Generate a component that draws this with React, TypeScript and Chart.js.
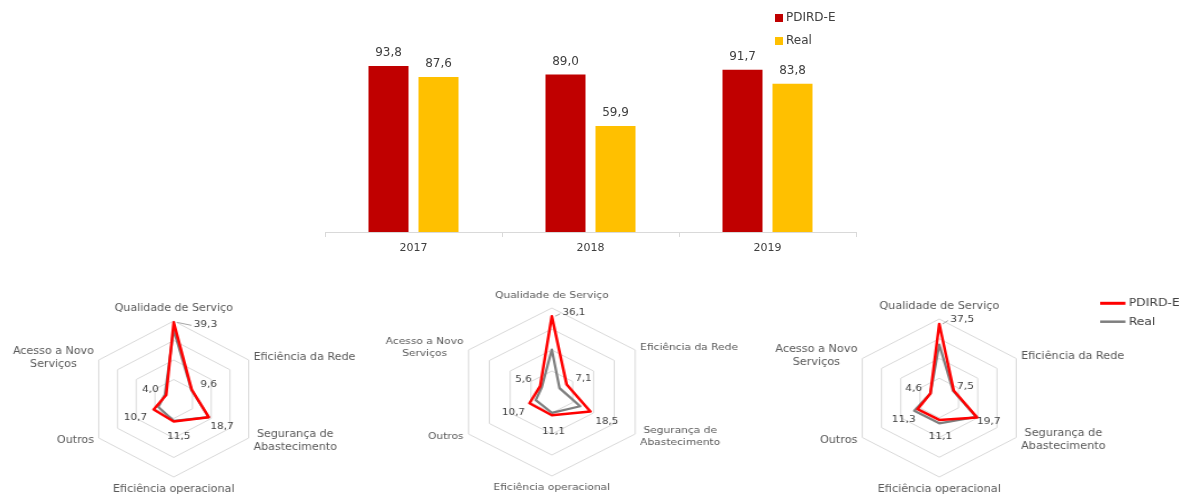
import React, { useEffect, useRef } from 'react';
import { Chart, registerables } from 'chart.js';

Chart.register(...registerables);

// ---------- DATA ----------
const YEARS = ['2017', '2018', '2019'];
const PDIRD_TOTAL = [93.8, 89.0, 91.7];
const REAL_TOTAL = [87.6, 59.9, 83.8];

const AXIS_LABELS: (string | string[])[] = [
  'Qualidade de Serviço',
  'Eficiência da Rede',
  ['Segurança de', 'Abastecimento'],
  'Eficiência operacional',
  'Outros',
  ['Acesso a Novo', 'Serviços'],
];

const PDIRD_2017 = [39.3, 9.6, 18.7, 11.5, 10.7, 4.0];
const REAL_2017 = [35.4, 9.4, 18.7, 11.2, 8.2, 4.7];
const PDIRD_2018 = [36.1, 7.1, 18.5, 11.1, 10.7, 5.6];
const REAL_2018 = [20.2, 3.7, 13.6, 9.9, 7.7, 4.8];
const PDIRD_2019 = [37.5, 7.5, 19.7, 11.1, 11.3, 4.6];
const REAL_2019 = [27.0, 7.2, 19.2, 12.8, 13.0, 4.6];

const SERIES_NAMES = ['PDIRD-E', 'Real'];

// ---------- STYLE ----------
const FONT = '"DejaVu Sans", sans-serif';
const TEXT = '#404040';
const LABEL_TEXT = '#595959';
const BAR_COLORS = ['#C00000', '#FFC000'];
const LINE_COLORS = ['#FF0000', '#7F7F7F'];

Chart.defaults.font.family = FONT;

const fmt = (v: number) => v.toFixed(1).replace('.', ',');

// ---------- BAR CHART ----------
const barTextPlugin = {
  id: 'barText',
  afterDatasetsDraw(chart: any) {
    const ctx = chart.ctx;
    ctx.save();
    ctx.font = `12px ${FONT}`;
    ctx.fillStyle = TEXT;
    ctx.textAlign = 'center';
    ctx.textBaseline = 'middle';
    chart.data.datasets.forEach((ds: any, di: number) => {
      chart.getDatasetMeta(di).data.forEach((bar: any, i: number) => {
        ctx.fillText(fmt(ds.data[i]), bar.x, bar.y - 13);
      });
    });
    // legend (top-right)
    chart.data.datasets.forEach((ds: any, di: number) => {
      const y = 18 + di * 23;
      ctx.fillStyle = ds.backgroundColor;
      ctx.fillRect(475, y - 4, 8, 8);
      ctx.fillStyle = TEXT;
      ctx.textAlign = 'left';
      ctx.fillText(ds.label, 486, y);
    });
    ctx.restore();
  },
};

function BarChart() {
  const ref = useRef<HTMLCanvasElement>(null);
  useEffect(() => {
    if (!ref.current) return;
    const chart = new Chart(ref.current, {
      type: 'bar',
      data: {
        labels: YEARS,
        datasets: [
          {
            label: SERIES_NAMES[0],
            data: PDIRD_TOTAL,
            backgroundColor: BAR_COLORS[0],
            categoryPercentage: 100 / 177,
            barPercentage: 0.8,
          },
          {
            label: SERIES_NAMES[1],
            data: REAL_TOTAL,
            backgroundColor: BAR_COLORS[1],
            categoryPercentage: 100 / 177,
            barPercentage: 0.8,
          },
        ],
      },
      options: {
        animation: false,
        responsive: false,
        layout: { padding: { left: 25, right: 24, top: 55, bottom: 0 } },
        plugins: { legend: { display: false }, tooltip: { enabled: false } },
        scales: {
          x: {
            offset: true,
            grid: {
              display: true,
              offset: true,
              drawOnChartArea: false,
              drawTicks: true,
              tickLength: 5,
              color: '#d9d9d9',
            },
            border: { display: true, color: '#d9d9d9' },
            ticks: { font: { family: FONT, size: 11 }, color: TEXT, padding: 5 },
            afterFit: (s: any) => {
              s.height = 28;
            },
          },
          y: { display: false, min: 0, max: 100 },
        },
      },
      plugins: [barTextPlugin],
    } as any);
    return () => chart.destroy();
  }, []);
  return (
    <canvas
      ref={ref}
      width={580}
      height={260}
      style={{ position: 'absolute', left: 300, top: 0, width: '580px', height: '260px' }}
    />
  );
}

// ---------- RADAR CHARTS ----------
type RadarCfg = {
  left: number;
  stretch: number;
  width: number;
  padding: { left: number; right: number; top: number; bottom: number };
  labelSize: number;
  valueSize: number;
  offsets: number[][];
  legend?: boolean;
};

function makeRadarPlugin(cfg: RadarCfg) {
  return {
    id: 'radarText',
    afterDatasetsDraw(chart: any) {
      const scale = chart.scales.r;
      const ctx = chart.ctx;
      ctx.save();
      // axis (point) labels
      ctx.font = `${cfg.labelSize}px ${FONT}`;
      ctx.fillStyle = LABEL_TEXT;
      ctx.textBaseline = 'middle';
      ctx.textAlign = 'center';
      const lh = cfg.labelSize * 1.3;
      chart.data.labels.forEach((lbl: any, i: number) => {
        const lines: string[] = Array.isArray(lbl) ? lbl : [lbl];
        const ang = scale.getIndexAngle(i);
        const sx = Math.sin(ang);
        const cy = Math.cos(ang);
        const vertical = Math.abs(sx) < 0.01;
        const p = scale.getPointPosition(i, scale.drawingArea + (vertical ? 6 : 5));
        const maxW = Math.max(...lines.map((l) => ctx.measureText(l).width));
        const blockH = lines.length * lh;
        let cx: number;
        let top: number;
        if (vertical) {
          cx = p.x;
          top = cy > 0 ? p.y - blockH : p.y;
        } else if (sx > 0) {
          cx = p.x + maxW / 2;
          top = p.y - blockH / 2;
        } else {
          cx = p.x - maxW / 2;
          top = p.y - blockH / 2;
        }
        lines.forEach((l, k) => ctx.fillText(l, cx, top + lh * (k + 0.5)));
      });

      // value labels for the first series
      ctx.font = `${cfg.valueSize}px ${FONT}`;
      ctx.fillStyle = TEXT;
      const ds = chart.data.datasets[0];
      chart.getDatasetMeta(0).data.forEach((pt: any, i: number) => {
        const [dx, dy] = cfg.offsets[i];
        const x = pt.x + dx;
        const y = pt.y + dy;
        const txt = fmt(ds.data[i]);
        ctx.fillText(txt, x, y);
        if (i === 0) {
          const w = ctx.measureText(txt).width;
          ctx.strokeStyle = '#a6a6a6';
          ctx.lineWidth = 1;
          ctx.beginPath();
          ctx.moveTo(pt.x + 3, pt.y);
          ctx.lineTo(x - w / 2 - 2, y + 1);
          ctx.stroke();
        }
      });

      if (cfg.legend) {
        ctx.font = `11px ${FONT}`;
        ctx.textAlign = 'left';
        chart.data.datasets.forEach((d: any, di: number) => {
          const y = 23.3 + di * 18.4;
          ctx.strokeStyle = d.borderColor;
          ctx.lineWidth = di === 0 ? 3 : 2.5;
          ctx.beginPath();
          ctx.moveTo(313, y);
          ctx.lineTo(335.5, y);
          ctx.stroke();
          ctx.fillStyle = TEXT;
          ctx.fillText(d.label, 338.4, y);
        });
      }
      ctx.restore();
    },
  };
}

function RadarChart({ pdird, real, cfg }: { pdird: number[]; real: number[]; cfg: RadarCfg }) {
  const ref = useRef<HTMLCanvasElement>(null);
  useEffect(() => {
    if (!ref.current) return;
    const chart = new Chart(ref.current, {
      type: 'radar',
      data: {
        labels: AXIS_LABELS,
        datasets: [
          {
            label: SERIES_NAMES[0],
            data: pdird,
            borderColor: LINE_COLORS[0],
            backgroundColor: 'transparent',
            borderWidth: 2.5,
            pointRadius: 0,
            fill: false,
            borderJoinStyle: 'round',
          },
          {
            label: SERIES_NAMES[1],
            data: real,
            borderColor: LINE_COLORS[1],
            backgroundColor: 'transparent',
            borderWidth: 2.25,
            pointRadius: 0,
            fill: false,
            borderJoinStyle: 'round',
          },
        ],
      },
      options: {
        animation: false,
        responsive: false,
        layout: { padding: cfg.padding },
        plugins: { legend: { display: false }, tooltip: { enabled: false } },
        scales: {
          r: {
            min: 0,
            max: 40,
            ticks: { display: false, stepSize: 10 },
            grid: { color: '#d9d9d9', lineWidth: 1 },
            angleLines: { display: false },
            pointLabels: { display: false },
          },
        },
      },
      plugins: [makeRadarPlugin(cfg)],
    } as any);
    return () => chart.destroy();
  }, []);
  return (
    <canvas
      ref={ref}
      width={cfg.width}
      height={214}
      style={{
        position: 'absolute',
        left: cfg.left,
        top: 280,
        width: `${cfg.width}px`,
        height: '214px',
        transform: `scaleX(${cfg.stretch})`,
        transformOrigin: '0 0',
      }}
    />
  );
}

const RADAR1: RadarCfg = {
  left: -15.4,
  stretch: 1.11,
  width: 340,
  padding: { left: 92, right: 92, top: 41, bottom: 17 },
  labelSize: 10,
  valueSize: 9.5,
  offsets: [[28.6, 2], [15.3, -5.3], [12, 9.5], [4.5, 15.3], [-16.4, 8.3], [-14.2, -5.1]],
};
const RADAR2: RadarCfg = {
  left: 356.9,
  stretch: 1.146,
  width: 340,
  padding: { left: 86, right: 86, top: 28, bottom: 18 },
  labelSize: 9.3,
  valueSize: 9,
  offsets: [[19.3, -3.4], [14.7, -6], [14.3, 9.8], [1.4, 15.9], [-14, 9], [-14.6, -6.6]],
};
const RADAR3: RadarCfg = {
  left: 747.55,
  stretch: 1.125,
  width: 400,
  padding: { left: 91, right: 151, top: 39, bottom: 17 },
  labelSize: 10,
  valueSize: 9.5,
  offsets: [[20.4, -4.4], [10.5, -4.4], [10.3, 3.7], [1, 16.3], [-12.3, 10.3], [-14.8, -4.7]],
  legend: true,
};

export default function App() {
  return (
    <div
      style={{
        position: 'absolute',
        left: 0,
        top: 0,
        width: 1180,
        height: 494,
        overflow: 'hidden',
        background: '#ffffff',
      }}
    >
      <BarChart />
      <RadarChart pdird={PDIRD_2017} real={REAL_2017} cfg={RADAR1} />
      <RadarChart pdird={PDIRD_2018} real={REAL_2018} cfg={RADAR2} />
      <RadarChart pdird={PDIRD_2019} real={REAL_2019} cfg={RADAR3} />
    </div>
  );
}
